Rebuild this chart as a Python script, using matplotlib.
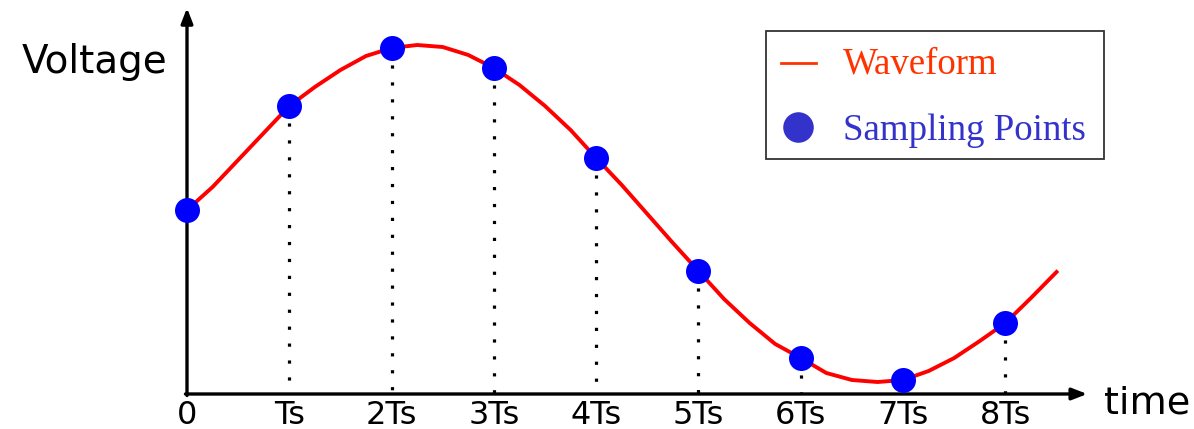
import matplotlib.pyplot as plt
from matplotlib.patches import Rectangle

# sampling instants (in units of Ts) and voltage at each sample
sample_t = [0, 1, 2, 3, 4, 5, 6, 7, 8]
sample_v = [1.84, 2.88, 3.46, 3.26, 2.36, 1.23, 0.36, 0.14, 0.71]
tick_labels = ['0', 'Ts', '2Ts', '3Ts', '4Ts', '5Ts', '6Ts', '7Ts', '8Ts']

# continuous waveform every quarter Ts
wave_t = [0, 0.25, 0.5, 0.75, 1, 1.25, 1.5, 1.75, 2, 2.25, 2.5, 2.75, 3, 3.25, 3.5, 3.75,
          4, 4.25, 4.5, 4.75, 5, 5.25, 5.5, 5.75, 6, 6.25, 6.5, 6.75, 7, 7.25, 7.5, 7.75,
          8, 8.25, 8.5]
wave_v = [1.84, 2.07, 2.34, 2.61, 2.88, 3.07, 3.24, 3.38, 3.46, 3.49, 3.47, 3.39, 3.26, 3.09, 2.88, 2.64,
          2.36, 2.09, 1.80, 1.51, 1.23, 0.95, 0.71, 0.50, 0.36, 0.21, 0.14, 0.12, 0.14, 0.23, 0.36, 0.53,
          0.71, 0.96, 1.22]

fig = plt.figure(figsize=(11.94, 4.29), dpi=100)
ax = fig.add_axes([0, 0, 1, 1])
ax.set_xlim(-1.828, 9.844)
ax.set_ylim(-0.35, 3.94)
ax.axis('off')

# axes with arrow heads
ax.annotate('', xy=(0, 3.86), xytext=(0, -0.015),
            arrowprops=dict(arrowstyle='-|>,head_length=0.9,head_width=0.35', color='black', lw=2.4,
                            shrinkA=0, shrinkB=0))
ax.annotate('', xy=(8.80, 0), xytext=(-0.015, 0),
            arrowprops=dict(arrowstyle='-|>,head_length=0.9,head_width=0.35', color='black', lw=2.4,
                            shrinkA=0, shrinkB=0))

# dotted drop lines
for t, v in zip(sample_t[1:], sample_v[1:]):
    ax.plot([t, t], [v, 0], color='black', lw=2.3, linestyle=(0, (1, 4.3)), zorder=2)

ax.plot(wave_t, wave_v, color='#ff0000', lw=2.8, zorder=3, solid_joinstyle='round')
ax.plot(sample_t, sample_v, 'o', color='#0000ff', markersize=18, markeredgewidth=0, zorder=4)

for t, lab in zip(sample_t, tick_labels):
    ax.text(t, -0.055, lab, ha='center', va='top', fontsize=23, family='DejaVu Sans')

fig.text(22 / 1194, 1 - 73 / 429, 'Voltage', ha='left', va='baseline', fontsize=28, family='DejaVu Sans')
fig.text(1104 / 1194, 1 - 413 / 429, 'time', ha='left', va='baseline', fontsize=27.5, family='DejaVu Sans')

# legend box
fig.patches.append(Rectangle((766 / 1194, 1 - 159 / 429), 338 / 1194, 128 / 429,
                             transform=fig.transFigure, fill=False, edgecolor='#333333', lw=1.3))
fig.lines.append(plt.Line2D([781 / 1194, 816 / 1194], [1 - 63 / 429, 1 - 63 / 429],
                            transform=fig.transFigure, color='#ff3300', lw=2))
fig.lines.append(plt.Line2D([798 / 1194], [1 - 127 / 429], transform=fig.transFigure,
                            marker='o', markersize=22, color='#3333cc', markeredgewidth=0))
fig.text(843 / 1194, 1 - 73 / 429, 'Waveform', ha='left', va='baseline', fontsize=26.6,
         family='Liberation Serif', color='#ff3300')
fig.text(843 / 1194, 1 - 140 / 429, 'Sampling Points', ha='left', va='baseline', fontsize=26.6,
         family='Liberation Serif', color='#3333cc')

fig.savefig('out.png', dpi=100)
